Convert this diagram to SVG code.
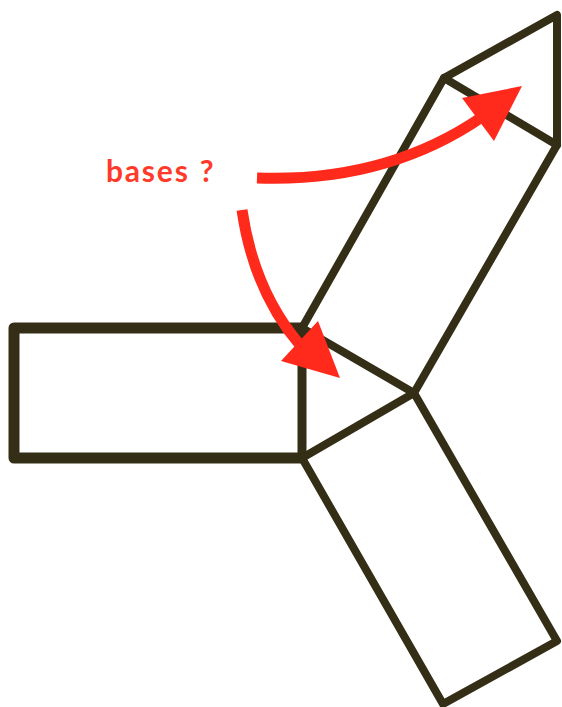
<svg xmlns="http://www.w3.org/2000/svg" width="562" height="707" viewBox="0 0 562 707">
<style>
.e{fill:none;stroke:#352e16;stroke-width:8;stroke-linejoin:round;stroke-linecap:round}
.t{stroke-width:11;stroke-linecap:butt;stroke-linejoin:round}
.a{fill:none;stroke:#ff2a1c;stroke-width:11}
.h{fill:#ff2a1c}
text{font-family:Lato,"Open Sans",sans-serif;font-size:30px;font-weight:700;letter-spacing:1.8px;word-spacing:1px;fill:#ff3a2a}
</style>
<rect width="562" height="707" fill="#fff"/>
<g id="shape-rect-left"><path class="e t" d="M302 328H14V458H302"/><path class="e" d="M302 328V458" style="stroke-width:9"/></g>
<g id="shape-triangle-center"><path class="e" d="M302 328L414 393L302 458"/></g>
<g id="shape-rect-upper"><path class="e" d="M302 328L444 78L557 145L414 393"/></g>
<g id="shape-triangle-top"><path class="e" d="M444 78L557 15V145"/></g>
<g id="shape-rect-lower"><path class="e" d="M302 458L443 704L557 641L414 393"/></g>
<g id="label"><text x="106" y="182">bases ?</text></g>
<g id="connectors">
<path class="a" d="M257 178C340 181 415 163 482 117"/>
<polygon class="h" points="522,86 462,98 494,141"/>
<path class="a" d="M242 210C250 265 270 310 300 345"/>
<polygon class="h" points="340,378 318,321 281,361"/>
</g>
</svg>
